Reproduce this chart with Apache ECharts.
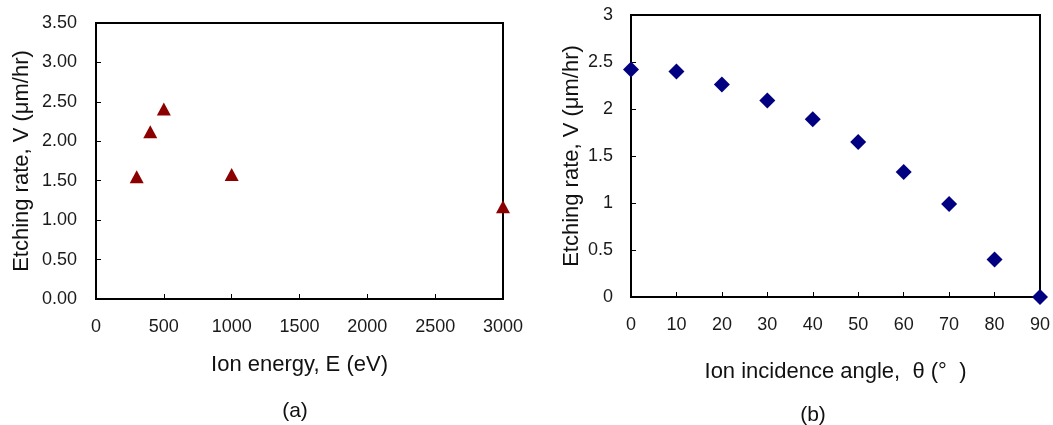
<!DOCTYPE html>
<html><head><meta charset="utf-8">
<script src="https://cdn.jsdelivr.net/npm/echarts@6/dist/echarts.min.js"></script>
<style>html,body{margin:0;padding:0;background:#fff}#c{width:1053px;height:425px}</style>
</head><body><div id="c"></div>
<script>
var energyX = [300, 400, 500, 1000, 3000];
var energyRate = [1.55, 2.12, 2.41, 1.58, 1.17];
var angleX = [0, 10, 20, 30, 40, 50, 60, 70, 80, 90];
var angleRate = [2.42, 2.40, 2.26, 2.09, 1.89, 1.65, 1.33, 0.99, 0.40, 0.00];
var leftTitleY = 'Etching rate, V (μm/hr)';
var leftTitleX = 'Ion energy, E (eV)';
var rightTitleY = 'Etching rate, V (μm/hr)';
var rightTitleX = 'Ion incidence angle,  θ (°  )';

var FONT = '"Liberation Sans", Arial, sans-serif';
var chart = echarts.init(document.getElementById('c'));
function axisCommon() {
  return {
    axisLine: {show: true, onZero: false, lineStyle: {color: '#000', width: 2}},
    axisTick: {show: true, inside: true, length: 5, lineStyle: {color: '#000', width: 1}},
    splitLine: {show: false},
    axisLabel: {color: '#1a1a1a', fontFamily: FONT, fontSize: 18, margin: 12,
                formatter: function (v) { return String(v); }},
    nameTextStyle: {color: '#111', fontFamily: FONT, fontSize: 22},
    nameLocation: 'middle'
  };
}
var xa0 = Object.assign(axisCommon(), {gridIndex: 0, type: 'value', min: 0, max: 3000, interval: 500, name: leftTitleX, nameGap: 55});
xa0.axisLabel.margin = 19;
var ya0 = Object.assign(axisCommon(), {gridIndex: 0, type: 'value', min: 0, max: 3.5, interval: 0.5, name: leftTitleY, nameGap: 63});
ya0.axisLabel.formatter = function (v) { return v.toFixed(2); };
ya0.axisLabel.margin = 19;
var xa1 = Object.assign(axisCommon(), {gridIndex: 1, type: 'value', min: 0, max: 90, interval: 10, name: rightTitleX, nameGap: 64});
xa1.axisLabel.margin = 19;
var ya1 = Object.assign(axisCommon(), {gridIndex: 1, type: 'value', min: 0, max: 3, interval: 0.5, name: rightTitleY, nameGap: 48});
ya1.axisLabel.margin = 18;

chart.setOption({
  animation: false,
  backgroundColor: '#fff',
  grid: [
    {left: 96, top: 23, width: 407, height: 276, show: true, borderColor: '#000', borderWidth: 2, backgroundColor: 'transparent'},
    {left: 631, top: 15, width: 411, height: 282, show: true, borderColor: '#000', borderWidth: 2, backgroundColor: 'transparent'}
  ],
  title: [
    {text: '(a)', left: 290, top: 396, textAlign: 'center', textStyle: {fontFamily: FONT, fontSize: 21, fontWeight: 'normal', color: '#111'}},
    {text: '(b)', left: 808, top: 400, textAlign: 'center', textStyle: {fontFamily: FONT, fontSize: 21, fontWeight: 'normal', color: '#111'}}
  ],
  xAxis: [xa0, xa1],
  yAxis: [ya0, ya1],
  series: [
    {type: 'scatter', xAxisIndex: 0, yAxisIndex: 0, clip: false, symbol: 'triangle', symbolSize: [14, 13],
     itemStyle: {color: '#8b0000', opacity: 1}, data: energyX.map(function (x, i) { return [x, energyRate[i]]; })},
    {type: 'scatter', xAxisIndex: 1, yAxisIndex: 1, clip: false, symbol: 'diamond', symbolSize: [16, 16],
     itemStyle: {color: '#000080', opacity: 1}, data: angleX.map(function (x, i) { return [x, angleRate[i]]; })}
  ]
});
</script></body></html>
